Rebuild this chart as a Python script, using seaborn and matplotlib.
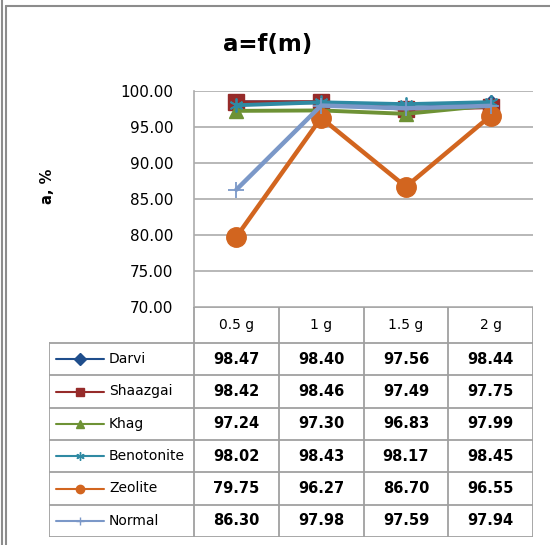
import matplotlib
matplotlib.use("Agg")
import matplotlib.pyplot as plt
from matplotlib.lines import Line2D
import seaborn as sns
import pandas as pd

# данные с картинки
doses = ["0.5 g", "1 g", "1.5 g", "2 g"]
series_names = ["Darvi", "Shaazgai", "Khag", "Benotonite", "Zeolite", "Normal"]
darvi = [98.47, 98.40, 97.56, 98.44]
shaazgai = [98.42, 98.46, 97.49, 97.75]
khag = [97.24, 97.30, 96.83, 97.99]
benotonite = [98.02, 98.43, 98.17, 98.45]
zeolite = [79.75, 96.27, 86.70, 96.55]
normal = [86.30, 97.98, 97.59, 97.94]
y_ticks = [70, 75, 80, 85, 90, 95, 100]

values = [darvi, shaazgai, khag, benotonite, zeolite, normal]
df = pd.DataFrame({
    "dose": doses * len(series_names),
    "series": [s for s in series_names for _ in doses],
    "a": [v for vals in values for v in vals],
})

styles = {
    "Darvi":      dict(color="#1F4E8C", marker="D", ms=7, lw=2.5, mew=1),
    "Shaazgai":   dict(color="#962B2A", marker="s", ms=11, lw=2.8, mew=1),
    "Khag":       dict(color="#6E9235", marker="^", ms=10, lw=2.8, mew=1),
    "Benotonite": dict(color="#2F8AA3", marker=(6, 2, 0), ms=10, lw=2.8, mew=1.3),
    "Zeolite":    dict(color="#D2651F", marker="o", ms=14, lw=3.2, mew=1),
    "Normal":     dict(color="#7B98C8", marker="+", ms=12, lw=3.2, mew=1.3),
}

sns.set_style("white")
plt.rcParams["font.family"] = ["DejaVu Sans"]
plt.rcParams["text.color"] = "black"
plt.rcParams["ytick.color"] = "black"

W, H = 550, 545
fig = plt.figure(figsize=(W / 100, H / 100), dpi=100)

# область графика (пиксели: x 194..533, y 91..307)
ax = fig.add_axes([194 / W, 1 - 307 / H, 339 / W, (307 - 91) / H])
for name in series_names:
    st = styles[name]
    sub = df[df["series"] == name]
    sns.lineplot(data=sub, x="dose", y="a", ax=ax, color=st["color"],
                 linewidth=st["lw"], marker=st["marker"], markersize=st["ms"],
                 markeredgewidth=st["mew"], markeredgecolor=st["color"],
                 legend=False, sort=False)

ax.set_xlim(-0.5, 3.5)
ax.set_ylim(70, 100)
ax.set_yticks(y_ticks)
ax.set_yticklabels([f"{t:.2f}" for t in y_ticks], fontsize=11,
                   color="black")
ax.tick_params(axis="y", length=0, pad=15)
ax.set_xticks([])
ax.set_xlabel("")
ax.set_ylabel("")
ax.yaxis.grid(True, color="#ABABAB", linewidth=1.2)
ax.set_axisbelow(True)
for side in ["top", "right", "bottom"]:
    ax.spines[side].set_visible(False)
ax.spines["left"].set_color("#ABABAB")
ax.spines["left"].set_linewidth(1.2)

fig.text(268 / W, 1 - 45 / H, "a=f(m)", ha="center", va="center",
         fontsize=16.5, fontweight="bold", color="black")
fig.text(47 / W, 1 - 186 / H, "a, %", ha="center", va="center",
         rotation=90, fontsize=10.5, fontweight="bold", color="black")

# таблица данных под графиком
unit = 339 / 4
x_left = -0.5 - (194 - 49) / unit
tab = fig.add_axes([49 / W, 1 - 537 / H, 484 / W, 230 / H])
tab.set_xlim(x_left, 3.5)
tab.set_ylim(230, 0)
tab.axis("off")

grid_c = "#A0A0A0"
head_h = 36
row_h = (230 - head_h) / len(series_names)
tab.plot([-0.5, 3.5], [0, 0], color=grid_c, lw=1.3)
for r in range(len(series_names) + 1):
    y = head_h + r * row_h
    tab.plot([x_left, 3.5], [y, y], color=grid_c, lw=1.3)
for k in range(5):
    tab.plot([k - 0.5, k - 0.5], [0, 230], color=grid_c, lw=1.3)
tab.plot([x_left, x_left], [head_h, 230], color=grid_c, lw=1.3)

for i, d in enumerate(doses):
    tab.text(i, head_h / 2, d, ha="center", va="center", fontsize=10,
             color="black")

h0 = x_left + 7 / unit
h1 = x_left + 55 / unit
for r, name in enumerate(series_names):
    st = styles[name]
    yc = head_h + (r + 0.5) * row_h
    tab.plot([h0, h1], [yc, yc], color=st["color"], lw=1.5)
    tab.plot([(h0 + h1) / 2], [yc], color=st["color"], marker=st["marker"],
             markersize=6, markeredgewidth=1)
    tab.text(x_left + 60 / unit, yc, name, ha="left", va="center",
             fontsize=10, color="black")
    for i, v in enumerate(values[r]):
        tab.text(i, yc, f"{v:.2f}", ha="center", va="center",
                 fontsize=10.5, fontweight="semibold", color="black")

# рамка как в Excel
frame_c = "#8C8C8C"
fig.add_artist(Line2D([1.5 / W, 1.5 / W], [0, 1], color=frame_c, lw=1.5))
fig.add_artist(Line2D([6 / W, 6 / W], [0, 1 - 5.5 / H], color=frame_c, lw=1.5))
fig.add_artist(Line2D([6 / W, 1], [1 - 5.5 / H, 1 - 5.5 / H], color=frame_c, lw=1.5))

fig.savefig("out.png", dpi=100)
